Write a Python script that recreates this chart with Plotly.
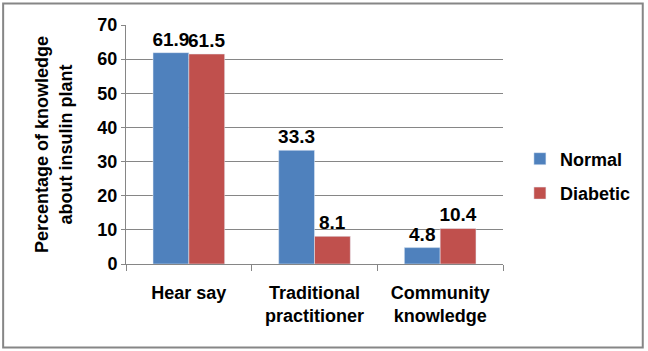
import plotly.graph_objects as go

categories = ["Hear say", "Traditional<br>practitioner", "Community<br>knowledge"]
normal = [61.9, 33.3, 4.8]
diabetic = [61.5, 8.1, 10.4]
y_ticks = [0, 10, 20, 30, 40, 50, 60, 70]

W, H = 648, 351
L, R, T, B = 126, 143, 25, 87
pw, ph = W - L - R, H - T - B

font = dict(family="Liberation Sans, Arial, sans-serif", color="black")

fig = go.Figure()
fig.add_trace(go.Bar(name="<b>Normal</b>", x=categories, y=normal, marker_color="#4F81BD",
                     legendgroup="n",
                     text=[f"<b>{v}</b>" for v in normal], textposition="outside",
                     textfont=dict(size=19, **font), cliponaxis=False, constraintext="none"))
fig.add_trace(go.Bar(name="<b>Diabetic</b>", x=categories, y=diabetic, marker_color="#C0504D",
                     legendgroup="d",
                     text=[f"<b>{v}</b>" for v in diabetic], textposition="outside",
                     textfont=dict(size=19, **font), cliponaxis=False, constraintext="none"))

fig.update_layout(
    width=W, height=H, barmode="group", bargap=0.43, bargroupgap=0,
    margin=dict(l=L, r=R, t=T, b=B),
    paper_bgcolor="white", plot_bgcolor="white",
    font=dict(size=15, **font),
    legend=dict(x=(522 - L) / pw, y=(H - B - 176) / ph, xanchor="left", yanchor="middle",
                font=dict(size=18, **font), itemwidth=30, traceorder="grouped",
                tracegroupgap=8, bgcolor="rgba(0,0,0,0)"),
    xaxis=dict(type="category", tickmode="array", tickvals=categories,
               ticktext=[f"<b>{c}</b>" for c in categories],
               showline=True, linecolor="#868686", linewidth=1,
               ticks="outside", tickson="boundaries", ticklen=6, tickcolor="#868686",
               ticklabelstandoff=12, tickfont=dict(size=18, **font)),
    yaxis=dict(range=[0, 70], tickvals=y_ticks, ticktext=[f"<b>{v}</b>" for v in y_ticks],
               showgrid=True, gridcolor="#868686", gridwidth=1,
               showline=True, linecolor="#868686", linewidth=1, zeroline=False,
               ticks="outside", ticklen=4, tickcolor="#868686",
               tickfont=dict(size=18, **font),
               title=dict(text="<b>Percentage of knowledge<br>about insulin plant</b>",
                          font=dict(size=18, **font), standoff=20)),
    shapes=[dict(type="rect", xref="paper", yref="paper",
                 x0=(2.5 - L) / pw, x1=(645.5 - L) / pw,
                 y0=(H - B - 347.5) / ph, y1=(H - B - 3.5) / ph,
                 line=dict(color="#868686", width=2), fillcolor="rgba(0,0,0,0)", layer="below")],
)

fig.write_html("out.html")
